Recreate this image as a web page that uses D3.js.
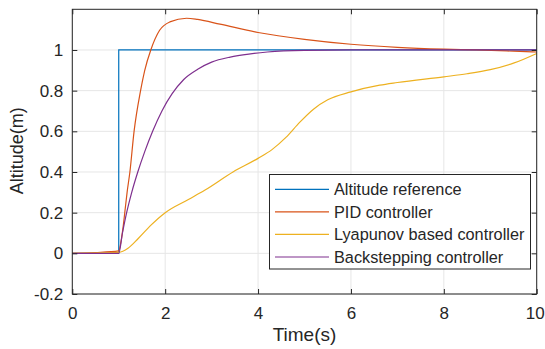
<!DOCTYPE html>
<html>
<head>
<meta charset="utf-8">
<script src="https://cdn.jsdelivr.net/npm/d3@7"></script>
<style>
  body { margin: 0; background: #fff; }
  svg { display: block; font-family: "Liberation Sans", Arial, sans-serif; }
</style>
</head>
<body>
<svg id="chart" width="545" height="349"></svg>
<script>
// ---- data ----
const seriesNames = ["Altitude reference", "PID controller", "Lyapunov based controller", "Backstepping controller"];
const seriesColors = ["#0072BD", "#D95319", "#EDB120", "#7E2F8E"];

const refT = [0, 1, 1, 10];
const refV = [0, 0, 1, 1];

const pidT = [0, 0.5, 1.0, 1.05, 1.1, 1.13, 1.18, 1.24, 1.33, 1.47, 1.56, 1.69, 1.88, 2.1, 2.46, 2.7, 3.18, 4.0, 5.0, 6.0, 7.0, 8.0, 8.7, 9.5, 10];
const pidV = [0, 0.004, 0.012, 0.06, 0.14, 0.2, 0.3, 0.4, 0.6, 0.8, 0.9, 1.0, 1.097, 1.138, 1.156, 1.15, 1.127, 1.086, 1.052, 1.028, 1.013, 1.004, 1.0, 0.994, 0.99];

const lyaT = [0, 1.0, 1.2, 1.42, 1.7, 2.0, 2.5, 2.85, 3.46, 4.0, 4.3, 4.6, 4.9, 5.2, 5.5, 6.0, 6.62, 7.0, 8.0, 8.5, 9.0, 9.5, 10];
const lyaV = [0, 0.005, 0.025, 0.073, 0.14, 0.2, 0.265, 0.31, 0.4, 0.467, 0.51, 0.57, 0.645, 0.71, 0.755, 0.794, 0.827, 0.84, 0.868, 0.883, 0.903, 0.935, 0.983];

const bsT = [0, 1.0, 1.08, 1.17, 1.28, 1.41, 1.56, 1.73, 1.93, 2.15, 2.4, 2.7, 3.0, 3.4, 3.8, 4.2, 5.0, 6.0, 10];
const bsV = [0, 0, 0.1, 0.2, 0.3, 0.4, 0.5, 0.6, 0.7, 0.785, 0.855, 0.905, 0.94, 0.965, 0.98, 0.99, 0.998, 1.0, 1.0];

const xTicks = [0, 2, 4, 6, 8, 10];
const yTicks = [-0.2, 0, 0.2, 0.4, 0.6, 0.8, 1];
const xLabel = "Time(s)";
const yLabel = "Altitude(m)";

// ---- layout ----
const svg = d3.select("#chart");
const L = 72.3, R = 536.7, T = 9.3, B = 294;
const x = d3.scaleLinear().domain([0, 10]).range([L, R]);
const y = d3.scaleLinear().domain([-0.2, 1.2]).range([B, T]);

// grid
const grid = svg.append("g");
xTicks.forEach(t => grid.append("line").attr("x1", x(t)).attr("x2", x(t)).attr("y1", T).attr("y2", B)
  .attr("stroke", "#e6e6e6").attr("stroke-width", 1));
yTicks.forEach(t => grid.append("line").attr("x1", L).attr("x2", R).attr("y1", y(t)).attr("y2", y(t))
  .attr("stroke", "#e6e6e6").attr("stroke-width", 1));

// lines
const toPts = (ts, vs) => ts.map((t, i) => [t, vs[i]]);
const lineLin = d3.line().x(d => x(d[0])).y(d => y(d[1]));
const lineSm = d3.line().x(d => x(d[0])).y(d => y(d[1])).curve(d3.curveMonotoneX);
const plot = svg.append("g");
plot.append("path").attr("d", lineLin(toPts(refT, refV))).attr("fill", "none").attr("stroke", seriesColors[0]).attr("stroke-width", 1.2);
plot.append("path").attr("d", lineSm(toPts(pidT, pidV))).attr("fill", "none").attr("stroke", seriesColors[1]).attr("stroke-width", 1.2);
plot.append("path").attr("d", lineSm(toPts(lyaT, lyaV))).attr("fill", "none").attr("stroke", seriesColors[2]).attr("stroke-width", 1.2);
plot.append("path").attr("d", lineSm(toPts(bsT, bsV))).attr("fill", "none").attr("stroke", seriesColors[3]).attr("stroke-width", 1.2);

// axes (ticks inside, box)
const axCol = "#262626";
const fmt = d => String(+d.toFixed(1));
const xAxis = d3.axisBottom(x).tickValues(xTicks).tickSizeInner(-5).tickSizeOuter(0).tickPadding(13).tickFormat(fmt);
const gx = svg.append("g").attr("transform", `translate(0,${B})`).call(xAxis);
gx.select(".domain").remove();
gx.selectAll("line").attr("stroke", axCol);
gx.selectAll("text").attr("font-size", 17).attr("fill", axCol).attr("font-family", "Liberation Sans, Arial, sans-serif");
gx.selectAll(".tick").filter(d => d === 10).select("text").attr("dx", -2);

const xTop = d3.axisTop(x).tickValues(xTicks).tickSizeInner(-5).tickSizeOuter(0).tickFormat("");
const gxt = svg.append("g").attr("transform", `translate(0,${T})`).call(xTop);
gxt.select(".domain").remove();
gxt.selectAll("line").attr("stroke", axCol);

const yAxis = d3.axisLeft(y).tickValues(yTicks).tickSizeInner(-5).tickSizeOuter(0).tickPadding(9).tickFormat(fmt);
const gy = svg.append("g").attr("transform", `translate(${L},0)`).call(yAxis);
gy.select(".domain").remove();
gy.selectAll("line").attr("stroke", axCol);
gy.selectAll("text").attr("font-size", 17).attr("fill", axCol).attr("font-family", "Liberation Sans, Arial, sans-serif");

const yRight = d3.axisRight(y).tickValues(yTicks).tickSizeInner(-5).tickSizeOuter(0).tickFormat("");
const gyr = svg.append("g").attr("transform", `translate(${R},0)`).call(yRight);
gyr.select(".domain").remove();
gyr.selectAll("line").attr("stroke", axCol);

svg.append("rect").attr("x", L).attr("y", T).attr("width", R - L).attr("height", B - T)
  .attr("fill", "none").attr("stroke", axCol).attr("stroke-width", 1);

// axis labels
svg.append("text").attr("x", (L + R) / 2).attr("y", 341).attr("text-anchor", "middle")
  .attr("font-size", 19).attr("fill", axCol).text(xLabel);
svg.append("text").attr("transform", `translate(23,${(T + B) / 2 - 1}) rotate(-90)`).attr("text-anchor", "middle")
  .attr("font-size", 18).attr("fill", axCol).text(yLabel);

// legend
const lg = svg.append("g");
lg.append("rect").attr("x", 269.5).attr("y", 174.5).attr("width", 261).attr("height", 94.5)
  .attr("fill", "#fff").attr("stroke", axCol).attr("stroke-width", 1);
const rowY = d3.scaleLinear().domain([0, 3]).range([189.3, 257]);
seriesNames.forEach((n, i) => {
  lg.append("line").attr("x1", 275).attr("x2", 329).attr("y1", rowY(i)).attr("y2", rowY(i))
    .attr("stroke", seriesColors[i]).attr("stroke-width", 1.2);
  lg.append("text").attr("x", 334).attr("y", rowY(i) + 5.8).attr("font-size", 16.3).attr("fill", axCol).text(n);
});
</script>
</body>
</html>
